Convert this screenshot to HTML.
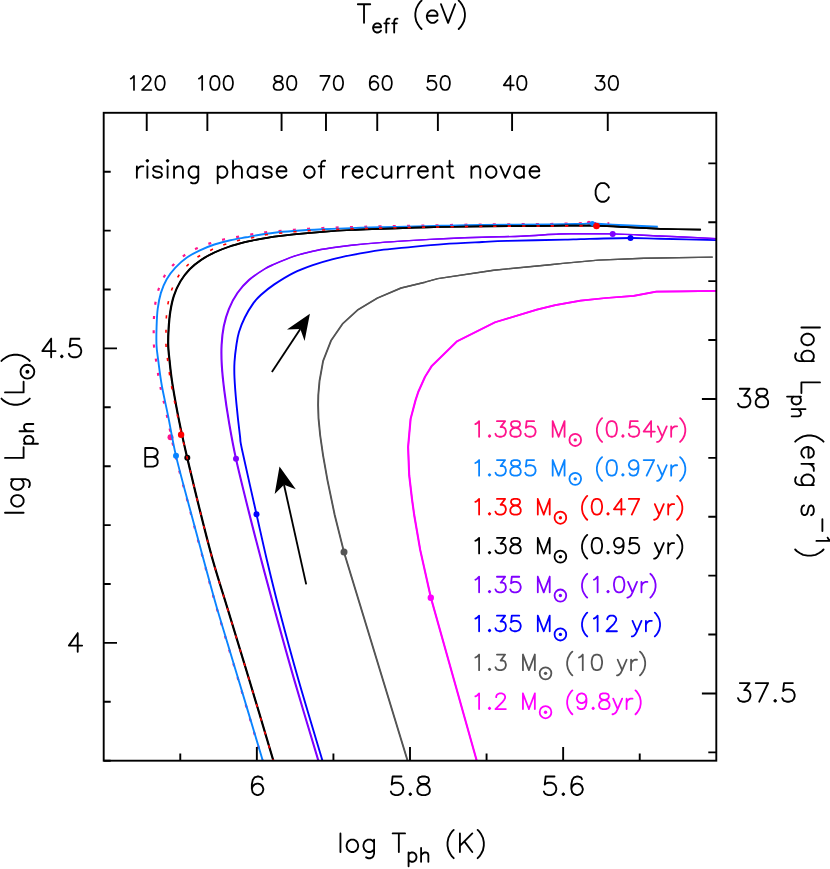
<!DOCTYPE html>
<html lang="en">
<head>
<meta charset="utf-8">
<title>Rising phase of recurrent novae</title>
<style>
html,body{margin:0;padding:0;background:#fff;font-family:"Liberation Sans",sans-serif;}
svg{display:block}
</style>
</head>
<body>
<svg width="830" height="869" viewBox="0 0 830 869">
<defs><clipPath id="pc"><rect x="103.7" y="112.8" width="612.6" height="647.9"/></clipPath></defs>
<title>Rising phase of recurrent novae: log L_ph vs log T_ph</title>
<desc>Axes: log T_ph (K) 6, 5.8, 5.6; T_eff (eV) 120 100 80 70 60 50 40 30; log L_ph (L_sun) 4, 4.5; log L_ph (erg s^-1) 37.5, 38. Labels B, C. Legend: 1.385 M_sun (0.54yr), 1.385 M_sun (0.97yr), 1.38 M_sun (0.47 yr), 1.38 M_sun (0.95 yr), 1.35 M_sun (1.0yr), 1.35 M_sun (12 yr), 1.3 M_sun (10 yr), 1.2 M_sun (9.8yr)</desc>
<rect width="830" height="869" fill="#fff"/>
<g fill="none" stroke-linejoin="round" stroke-linecap="butt" clip-path="url(#pc)">
<path d="M476.8 760.9L430.9 597.7L420.2 549.9L414.2 515L412 499.1L409.2 475.2L408.1 447L410.6 418.9L415.6 400L418.5 391.3L425 376.9L431.9 365.8L457.2 341.2L495.1 322.3L536.9 309.6L555.3 305.1L580.6 300.6L605.9 298L633.7 295.8L656.3 291.6L681.8 291.4L716.3 290.8" stroke="#ff00ff" stroke-width="1.7" transform="translate(-0.2 0)"/>
<path d="M476.8 760.9L430.9 597.7L420.2 549.9L414.2 515L412 499.1L409.2 475.2L408.1 447L410.6 418.9L415.6 400L418.5 391.3L425 376.9L431.9 365.8L457.2 341.2L495.1 322.3L536.9 309.6L555.3 305.1L580.6 300.6L605.9 298L633.7 295.8L656.3 291.6L681.8 291.4L716.3 290.8" stroke="#ff00ff" stroke-width="1.7" transform="translate(0.2 0)"/>
<path d="M407.6 760.7L344 552.2L334.7 515L327.5 480.3L323.1 455.7L320.2 435.5L318.5 418.1L318.1 405.1L318.3 395L319.5 381.2L323.1 361L331 340.7L342.9 323.4L358.2 309.6L377.3 298.1L401.1 288L425 282.2L437.8 278.6L493.7 270.2L550 264.8L562.9 263.4L598.3 260.1L643.9 258.3L712.7 257.1" stroke="#555555" stroke-width="1.4" transform="translate(-0.25 0)"/>
<path d="M407.6 760.7L344 552.2L334.7 515L327.5 480.3L323.1 455.7L320.2 435.5L318.5 418.1L318.1 405.1L318.3 395L319.5 381.2L323.1 361L331 340.7L342.9 323.4L358.2 309.6L377.3 298.1L401.1 288L425 282.2L437.8 278.6L493.7 270.2L550 264.8L562.9 263.4L598.3 260.1L643.9 258.3L712.7 257.1" stroke="#555555" stroke-width="1.4" transform="translate(0.25 0)"/>
<path d="M322.5 760.7C318.5 747.25 305.7 705.12 298.5 680C291.3 654.88 284.55 629.92 279.3 610C274.05 590.08 270.8 576.47 267 560.5C263.2 544.53 260.65 532.62 256.5 514.2C252.35 495.78 244.85 463 242.1 450C239.35 437 240.95 443.98 240 436.2C239.05 428.42 237.32 413 236.4 403.3C235.48 393.6 234.82 384.88 234.5 378C234.18 371.12 234.18 367.5 234.5 362C234.82 356.5 235.65 350 236.4 345C237.15 340 237.6 336.58 239 332C240.4 327.42 242.4 322.32 244.8 317.5C247.2 312.68 250.73 306.85 253.4 303.1C256.07 299.35 257.32 298.12 260.8 295C264.28 291.88 268.83 288.1 274.3 284.4C279.77 280.7 287.18 276.02 293.6 272.8C300.02 269.58 306.38 267.35 312.8 265.1C319.22 262.85 325.67 260.97 332.1 259.3C338.53 257.63 343.37 256.63 351.4 255.1C359.43 253.57 371.37 251.35 380.3 250.1C389.23 248.85 394.45 248.6 405 247.6C415.55 246.6 430.75 245.03 443.6 244.1C456.45 243.17 471.5 242.53 482.1 242C492.7 241.47 493.38 241.3 507.2 240.9C521.02 240.5 552.77 239.9 565 239.6C577.23 239.3 569.68 239.37 580.6 239.1C591.52 238.83 617.27 238.05 630.5 238C643.73 237.95 645.7 238.45 660 238.8C674.3 239.15 706.92 239.88 716.3 240.1" stroke="#0000ff" stroke-width="1.9"/>
<path d="M318.4 760.7C314.38 747.25 301.58 705.12 294.3 680C287.02 654.88 280.18 629.92 274.7 610C269.22 590.08 265.6 576.42 261.4 560.5C257.2 544.58 253.73 531.45 249.5 514.5C245.27 497.55 239.45 474.38 236 458.8C232.55 443.22 230.75 432.37 228.8 421C226.85 409.63 225.47 399.88 224.3 390.6C223.13 381.32 222.25 372.9 221.8 365.3C221.35 357.7 221.27 351.52 221.6 345C221.93 338.48 222.58 332.22 223.8 326.2C225.02 320.18 226.62 314.45 228.9 308.9C231.18 303.35 234.13 297.73 237.5 292.9C240.87 288.07 244.58 283.88 249.1 279.9C253.62 275.92 260.4 271.62 264.6 269C268.8 266.38 269.47 266.3 274.3 264.2C279.13 262.1 287.18 258.57 293.6 256.4C300.02 254.23 306.38 252.63 312.8 251.2C319.22 249.77 325.67 248.78 332.1 247.8C338.53 246.82 343.37 246.17 351.4 245.3C359.43 244.43 371.37 243.33 380.3 242.6C389.23 241.87 394.45 241.55 405 240.9C415.55 240.25 430.75 239.32 443.6 238.7C456.45 238.08 469.25 237.62 482.1 237.2C494.95 236.78 507.85 236.73 520.7 236.2C533.55 235.67 549.32 234.4 559.2 234C569.08 233.6 571.12 233.82 580 233.8C588.88 233.78 599.17 233.53 612.5 233.9C625.83 234.27 642.7 235.22 660 236C677.3 236.78 706.92 238.17 716.3 238.6" stroke="#8000ff" stroke-width="1.4" transform="translate(-0.35 0)"/>
<path d="M318.4 760.7C314.38 747.25 301.58 705.12 294.3 680C287.02 654.88 280.18 629.92 274.7 610C269.22 590.08 265.6 576.42 261.4 560.5C257.2 544.58 253.73 531.45 249.5 514.5C245.27 497.55 239.45 474.38 236 458.8C232.55 443.22 230.75 432.37 228.8 421C226.85 409.63 225.47 399.88 224.3 390.6C223.13 381.32 222.25 372.9 221.8 365.3C221.35 357.7 221.27 351.52 221.6 345C221.93 338.48 222.58 332.22 223.8 326.2C225.02 320.18 226.62 314.45 228.9 308.9C231.18 303.35 234.13 297.73 237.5 292.9C240.87 288.07 244.58 283.88 249.1 279.9C253.62 275.92 260.4 271.62 264.6 269C268.8 266.38 269.47 266.3 274.3 264.2C279.13 262.1 287.18 258.57 293.6 256.4C300.02 254.23 306.38 252.63 312.8 251.2C319.22 249.77 325.67 248.78 332.1 247.8C338.53 246.82 343.37 246.17 351.4 245.3C359.43 244.43 371.37 243.33 380.3 242.6C389.23 241.87 394.45 241.55 405 240.9C415.55 240.25 430.75 239.32 443.6 238.7C456.45 238.08 469.25 237.62 482.1 237.2C494.95 236.78 507.85 236.73 520.7 236.2C533.55 235.67 549.32 234.4 559.2 234C569.08 233.6 571.12 233.82 580 233.8C588.88 233.78 599.17 233.53 612.5 233.9C625.83 234.27 642.7 235.22 660 236C677.3 236.78 706.92 238.17 716.3 238.6" stroke="#8000ff" stroke-width="1.4" transform="translate(0.35 0)"/>
<path id="pk" d="M262.55 760.7C258.67 747.75 246.8 708.12 239.25 683C231.7 657.88 223.37 631.03 217.25 610C211.13 588.97 207.33 574.27 202.55 556.8C197.78 539.33 193.11 522.02 188.6 505.2C184.09 488.38 179.1 470.78 175.5 455.9C171.9 441.02 169.57 427.63 167 415.9C164.43 404.17 161.93 394.78 160.1 385.5C158.27 376.22 157.03 366.95 156 360.2C154.97 353.45 154.28 349.75 153.9 345C153.52 340.25 153.68 336.33 153.7 331.7C153.72 327.07 153.72 321.97 154 317.2C154.28 312.43 154.62 307.8 155.4 303.1C156.18 298.4 157.18 293.52 158.7 289C160.22 284.48 162.08 280 164.5 276C166.92 272 169.95 268.4 173.2 265C176.45 261.6 180.15 258.33 184 255.6C187.85 252.87 192 250.63 196.3 248.6C200.6 246.57 205.27 244.92 209.8 243.4C214.33 241.88 218.88 240.58 223.5 239.5C228.12 238.42 232.8 237.75 237.5 236.9C242.2 236.05 247.02 235.17 251.7 234.4C256.38 233.63 258.53 233.07 265.6 232.3C272.67 231.53 284.57 230.52 294.1 229.8C303.63 229.08 313.25 228.45 322.8 228C332.35 227.55 341.87 227.37 351.4 227.1C360.93 226.83 369.4 226.63 380 226.4C390.6 226.17 398 226.02 415 225.7C432 225.38 459.5 224.78 482 224.5C504.5 224.22 532.18 224.25 550 224C567.82 223.75 579.02 223.12 588.9 223C598.78 222.88 605.9 223.25 609.3 223.3" stroke="#ff148c" stroke-width="2.2" stroke-dasharray="3 11.3" stroke-dashoffset="1.5"/>
<circle cx="170.5" cy="437.2" r="3" fill="#ff148c"/><circle cx="588.9" cy="222.8" r="2" fill="#ff148c"/>
<path d="M262.8 760.7C258.92 747.75 247.05 708.12 239.5 683C231.95 657.88 223.62 631.03 217.5 610C211.38 588.97 207.57 574.27 202.8 556.8C198.03 539.33 193.37 522.02 188.9 505.2C184.43 488.38 179.47 470.78 176 455.9C172.53 441.02 170.47 427.63 168.1 415.9C165.73 404.17 163.45 394.78 161.8 385.5C160.15 376.22 159.08 366.95 158.2 360.2C157.32 353.45 156.77 350.67 156.5 345C156.23 339.33 156.4 332.22 156.6 326.2C156.8 320.18 156.98 314.45 157.7 308.9C158.42 303.35 159.4 297.85 160.9 292.9C162.4 287.95 164.28 283.42 166.7 279.2C169.12 274.98 172.03 271.22 175.4 267.6C178.77 263.98 182.82 260.38 186.9 257.5C190.98 254.62 195.32 252.47 199.9 250.3C204.48 248.13 209.33 246.18 214.4 244.5C219.47 242.82 225 241.4 230.3 240.2C235.6 239 242.08 238.07 246.2 237.3C250.32 236.53 250.32 236.37 255 235.6C259.68 234.83 267.87 233.47 274.3 232.7C280.73 231.93 285.57 231.57 293.6 231C301.63 230.43 312.87 229.78 322.5 229.3C332.13 228.82 341.77 228.43 351.4 228.1C361.03 227.77 369.7 227.57 380.3 227.3C390.9 227.03 404.85 226.75 415 226.5C425.15 226.25 430.02 226.05 441.2 225.8C452.38 225.55 463.97 225.22 482.1 225C500.23 224.78 533.58 224.68 550 224.5C566.42 224.32 573.38 224.07 580.6 223.9C587.82 223.73 586.97 223.32 593.3 223.5C599.63 223.68 607.85 224.47 618.6 225C629.35 225.53 651.27 226.42 657.8 226.7" stroke="#0a84ff" stroke-width="1.9"/>
<path d="M273.4 760.7C269.53 747.75 257.77 708.12 250.2 683C242.63 657.88 234.22 630.42 228 610C221.78 589.58 217.57 577.03 212.9 560.5C208.23 543.97 204.28 527.93 200 510.8C195.72 493.67 190.42 471.4 187.2 457.7C183.98 444 182.53 437.25 180.7 428.6C178.87 419.95 177.67 413.82 176.2 405.8C174.73 397.78 173.02 388.1 171.9 380.5C170.78 372.9 170.12 366.12 169.5 360.2C168.88 354.28 168.35 350.18 168.2 345C168.05 339.82 168.25 334.65 168.6 329.1C168.95 323.55 169.42 317.25 170.3 311.7C171.18 306.15 172.22 300.85 173.9 295.8C175.58 290.75 177.75 285.85 180.4 281.4C183.05 276.95 186.3 272.72 189.8 269.1C193.3 265.48 197.3 262.47 201.4 259.7C205.5 256.93 209.82 254.67 214.4 252.5C218.98 250.33 223.83 248.43 228.9 246.7C233.97 244.97 240.45 243.22 244.8 242.1C249.15 240.98 250.08 240.92 255 240C259.92 239.08 267.87 237.55 274.3 236.6C280.73 235.65 285.57 235.1 293.6 234.3C301.63 233.5 312.87 232.52 322.5 231.8C332.13 231.08 341.77 230.48 351.4 230C361.03 229.52 369.7 229.28 380.3 228.9C390.9 228.52 404.85 228.02 415 227.7C425.15 227.38 430.02 227.22 441.2 227C452.38 226.78 463.97 226.6 482.1 226.4C500.23 226.2 531.02 225.92 550 225.8C568.98 225.68 582.5 225.43 596 225.7C609.5 225.97 620.33 226.88 631 227.4C641.67 227.92 648.37 228.42 660 228.8C671.63 229.18 694 229.55 700.8 229.7" stroke="#000000" stroke-width="1.7" transform="translate(-0.25 0)"/>
<path d="M273.4 760.7C269.53 747.75 257.77 708.12 250.2 683C242.63 657.88 234.22 630.42 228 610C221.78 589.58 217.57 577.03 212.9 560.5C208.23 543.97 204.28 527.93 200 510.8C195.72 493.67 190.42 471.4 187.2 457.7C183.98 444 182.53 437.25 180.7 428.6C178.87 419.95 177.67 413.82 176.2 405.8C174.73 397.78 173.02 388.1 171.9 380.5C170.78 372.9 170.12 366.12 169.5 360.2C168.88 354.28 168.35 350.18 168.2 345C168.05 339.82 168.25 334.65 168.6 329.1C168.95 323.55 169.42 317.25 170.3 311.7C171.18 306.15 172.22 300.85 173.9 295.8C175.58 290.75 177.75 285.85 180.4 281.4C183.05 276.95 186.3 272.72 189.8 269.1C193.3 265.48 197.3 262.47 201.4 259.7C205.5 256.93 209.82 254.67 214.4 252.5C218.98 250.33 223.83 248.43 228.9 246.7C233.97 244.97 240.45 243.22 244.8 242.1C249.15 240.98 250.08 240.92 255 240C259.92 239.08 267.87 237.55 274.3 236.6C280.73 235.65 285.57 235.1 293.6 234.3C301.63 233.5 312.87 232.52 322.5 231.8C332.13 231.08 341.77 230.48 351.4 230C361.03 229.52 369.7 229.28 380.3 228.9C390.9 228.52 404.85 228.02 415 227.7C425.15 227.38 430.02 227.22 441.2 227C452.38 226.78 463.97 226.6 482.1 226.4C500.23 226.2 531.02 225.92 550 225.8C568.98 225.68 582.5 225.43 596 225.7C609.5 225.97 620.33 226.88 631 227.4C641.67 227.92 648.37 228.42 660 228.8C671.63 229.18 694 229.55 700.8 229.7" stroke="#000000" stroke-width="1.7" transform="translate(0.25 0)"/>
</g>
<circle cx="176" cy="455.8" r="3" fill="#0a84ff"/>
<circle cx="592.3" cy="223.5" r="2.4" fill="#0a84ff"/>
<circle cx="187.3" cy="457.7" r="3" fill="#000000"/>
<circle cx="236" cy="458.8" r="3" fill="#8000ff"/>
<circle cx="612.7" cy="233.9" r="3" fill="#8000ff"/>
<circle cx="256.5" cy="514.2" r="3" fill="#0000ff"/>
<circle cx="630.5" cy="238.1" r="3" fill="#0000ff"/>
<circle cx="344" cy="552.1" r="3.5" fill="#555555"/>
<circle cx="430.8" cy="597.7" r="3.2" fill="#ff00ff"/>
<path id="rd" d="M273.3 760.7C269.43 747.75 257.67 708.12 250.1 683C242.53 657.88 234.12 630.42 227.9 610C221.68 589.58 217.47 577.03 212.8 560.5C208.13 543.97 204.18 527.93 199.9 510.8C195.62 493.67 190.37 471.4 187.1 457.7C183.83 444 182.25 437.25 180.3 428.6C178.35 419.95 177.03 413.82 175.4 405.8C173.77 397.78 171.8 388.1 170.5 380.5C169.2 372.9 168.35 366.12 167.6 360.2C166.85 354.28 166.27 349.75 166 345C165.73 340.25 165.93 336.4 166 331.7C166.07 327 166.05 321.57 166.4 316.8C166.75 312.03 167.17 307.73 168.1 303.1C169.03 298.47 170.27 293.52 172 289C173.73 284.48 175.97 279.92 178.5 276C181.03 272.08 183.87 268.75 187.2 265.5C190.53 262.25 194.5 259.1 198.5 256.5C202.5 253.9 206.87 251.9 211.2 249.9C215.53 247.9 220 246.07 224.5 244.5C229 242.93 233.57 241.63 238.2 240.5C242.83 239.37 247.67 238.65 252.3 237.7C256.93 236.75 258.97 235.78 266 234.8C273.03 233.82 285.03 232.6 294.5 231.8C303.97 231 313.32 230.5 322.8 230C332.28 229.5 341.82 229.12 351.4 228.8C360.98 228.48 369.7 228.35 380.3 228.1C390.9 227.85 398.03 227.58 415 227.3C431.97 227.02 459.6 226.63 482.1 226.4C504.6 226.17 530.93 225.97 550 225.9C569.07 225.83 588.75 225.98 596.5 226" fill="none" stroke="#ff0000" stroke-width="1.6" stroke-dasharray="3.2 11.1" stroke-dashoffset="1.2" clip-path="url(#pc)"/>
<circle cx="181.1" cy="434.7" r="3.2" fill="#ff0000"/>
<circle cx="596.5" cy="226" r="3.3" fill="#ff0000"/>
<path d="M271.9 372.1L300.3 328.9" stroke="#000" stroke-width="1.85" fill="none"/>
<path d="M309.9 313.8L287 329.4L300.3 328.9L304.6 341Z" fill="#000"/>
<path d="M306.2 584.4L284 484.8" stroke="#000" stroke-width="1.85" fill="none"/>
<path d="M279.5 466.6L274.7 494.1L284 484.8L295.8 489.3Z" fill="#000"/>
<path d="M639.73 760.7v-7.3M563.15 760.7v-13.6M486.57 760.7v-7.3M410 760.7v-13.6M333.42 760.7v-7.3M256.85 760.7v-13.6M180.28 760.7v-7.3M146.73 112.8v18.3M207.36 112.8v18.3M281.57 112.8v18.3M325.98 112.8v18.3M377.24 112.8v18.3M437.88 112.8v18.3M512.08 112.8v18.3M607.76 112.8v18.3M103.7 760.7h7M103.7 701.8h7M103.7 642.9h13.3M103.7 584h7M103.7 525.1h7M103.7 466.2h7M103.7 407.3h7M103.7 348.4h13.3M103.7 289.5h7M103.7 230.6h7M103.7 171.7h7M716.3 752.34h-8M716.3 693.44h-14.4M716.3 634.54h-8M716.3 575.64h-8M716.3 516.74h-8M716.3 457.84h-8M716.3 398.94h-14.4M716.3 340.04h-8M716.3 281.14h-8M716.3 222.24h-8M716.3 163.34h-8" stroke="#000" stroke-width="1.9" fill="none"/>
<rect x="103.7" y="112.8" width="612.6" height="647.9" fill="none" stroke="#000" stroke-width="1.9"/>
<g fill="none" stroke-linecap="round" stroke-linejoin="round">
<g transform="translate(356.94 22.8)" stroke="#000" stroke-width="1.85"><path d="M7.08 -18.59L7.08 0M0.89 -18.59L13.28 -18.59M16.14 4.46L24.05 4.46L24.05 3.14L23.39 1.82L22.73 1.16L21.41 0.5L19.43 0.5L18.12 1.16L16.8 2.48L16.14 4.46L16.14 5.78L16.8 7.76L18.12 9.08L19.43 9.73L21.41 9.73L22.73 9.08L24.05 7.76M32.62 -4.11L31.3 -4.11L29.98 -3.45L29.32 -1.47L29.32 9.73M27.35 0.5L31.96 0.5M40.53 -4.11L39.21 -4.11L37.9 -3.45L37.24 -1.47L37.24 9.73M35.26 0.5L39.87 0.5M64.6 -22.12L62.83 -20.36L61.06 -17.7L59.29 -14.16L58.4 -9.73L58.4 -6.2L59.29 -1.77L61.06 1.77L62.83 4.42L64.6 6.2M69.91 -7.08L80.53 -7.08L80.53 -8.85L79.64 -10.62L78.76 -11.51L76.99 -12.39L74.33 -12.39L72.56 -11.51L70.79 -9.73L69.91 -7.08L69.91 -5.31L70.79 -2.66L72.56 -0.89L74.33 0L76.99 0L78.76 -0.89L80.53 -2.66M84.07 -18.59L91.15 0M98.23 -18.59L91.15 0M101.77 -22.12L103.54 -20.36L105.31 -17.7L107.08 -14.16L107.96 -9.73L107.96 -6.2L107.08 -1.77L105.31 1.77L103.54 4.42L101.77 6.2"/></g>
<g transform="translate(126.64 90)" stroke="#000" stroke-width="1.7"><path d="M4.01 -11.36L5.34 -12.02L7.35 -14.03L7.35 0M16.03 -10.69L16.03 -11.36L16.7 -12.69L17.37 -13.36L18.7 -14.03L21.38 -14.03L22.71 -13.36L23.38 -12.69L24.05 -11.36L24.05 -10.02L23.38 -8.68L22.04 -6.68L15.36 0L24.72 0M32.73 -14.03L30.73 -13.36L29.39 -11.36L28.72 -8.02L28.72 -6.01L29.39 -2.67L30.73 -0.67L32.73 0L34.07 0L36.07 -0.67L37.41 -2.67L38.08 -6.01L38.08 -8.02L37.41 -11.36L36.07 -13.36L34.07 -14.03L32.73 -14.03"/></g>
<g transform="translate(194.84 90)" stroke="#000" stroke-width="1.7"><path d="M4.01 -11.36L5.34 -12.02L7.35 -14.03L7.35 0M19.37 -14.03L17.37 -13.36L16.03 -11.36L15.36 -8.02L15.36 -6.01L16.03 -2.67L17.37 -0.67L19.37 0L20.71 0L22.71 -0.67L24.05 -2.67L24.72 -6.01L24.72 -8.02L24.05 -11.36L22.71 -13.36L20.71 -14.03L19.37 -14.03M32.73 -14.03L30.73 -13.36L29.39 -11.36L28.72 -8.02L28.72 -6.01L29.39 -2.67L30.73 -0.67L32.73 0L34.07 0L36.07 -0.67L37.41 -2.67L38.08 -6.01L38.08 -8.02L37.41 -11.36L36.07 -13.36L34.07 -14.03L32.73 -14.03"/></g>
<g transform="translate(271.65 90)" stroke="#000" stroke-width="1.7"><path d="M5.34 -14.03L3.34 -13.36L2.67 -12.02L2.67 -10.69L3.34 -9.35L4.68 -8.68L7.35 -8.02L9.35 -7.35L10.69 -6.01L11.36 -4.68L11.36 -2.67L10.69 -1.34L10.02 -0.67L8.02 0L5.34 0L3.34 -0.67L2.67 -1.34L2 -2.67L2 -4.68L2.67 -6.01L4.01 -7.35L6.01 -8.02L8.68 -8.68L10.02 -9.35L10.69 -10.69L10.69 -12.02L10.02 -13.36L8.02 -14.03L5.34 -14.03M19.37 -14.03L17.37 -13.36L16.03 -11.36L15.36 -8.02L15.36 -6.01L16.03 -2.67L17.37 -0.67L19.37 0L20.71 0L22.71 -0.67L24.05 -2.67L24.72 -6.01L24.72 -8.02L24.05 -11.36L22.71 -13.36L20.71 -14.03L19.37 -14.03"/></g>
<g transform="translate(318.35 90)" stroke="#000" stroke-width="1.7"><path d="M11.36 -14.03L4.68 0M2 -14.03L11.36 -14.03M19.37 -14.03L17.37 -13.36L16.03 -11.36L15.36 -8.02L15.36 -6.01L16.03 -2.67L17.37 -0.67L19.37 0L20.71 0L22.71 -0.67L24.05 -2.67L24.72 -6.01L24.72 -8.02L24.05 -11.36L22.71 -13.36L20.71 -14.03L19.37 -14.03"/></g>
<g transform="translate(367.08 90)" stroke="#000" stroke-width="1.7"><path d="M10.69 -12.02L10.02 -13.36L8.02 -14.03L6.68 -14.03L4.68 -13.36L3.34 -11.36L2.67 -8.02L2.67 -4.68L3.34 -2L4.68 -0.67L6.68 0L7.35 0L9.35 -0.67L10.69 -2L11.36 -4.01L11.36 -4.68L10.69 -6.68L9.35 -8.02L7.35 -8.68L6.68 -8.68L4.68 -8.02L3.34 -6.68L2.67 -4.68M19.37 -14.03L17.37 -13.36L16.03 -11.36L15.36 -8.02L15.36 -6.01L16.03 -2.67L17.37 -0.67L19.37 0L20.71 0L22.71 -0.67L24.05 -2.67L24.72 -6.01L24.72 -8.02L24.05 -11.36L22.71 -13.36L20.71 -14.03L19.37 -14.03"/></g>
<g transform="translate(425.15 90)" stroke="#000" stroke-width="1.7"><path d="M10.02 -14.03L3.34 -14.03L2.67 -8.02L3.34 -8.68L5.34 -9.35L7.35 -9.35L9.35 -8.68L10.69 -7.35L11.36 -5.34L11.36 -4.01L10.69 -2L9.35 -0.67L7.35 0L5.34 0L3.34 -0.67L2.67 -1.34L2 -2.67M19.37 -14.03L17.37 -13.36L16.03 -11.36L15.36 -8.02L15.36 -6.01L16.03 -2.67L17.37 -0.67L19.37 0L20.71 0L22.71 -0.67L24.05 -2.67L24.72 -6.01L24.72 -8.02L24.05 -11.36L22.71 -13.36L20.71 -14.03L19.37 -14.03"/></g>
<g transform="translate(501.75 90)" stroke="#000" stroke-width="1.7"><path d="M8.68 -14.03L2 -4.68L12.02 -4.68M8.68 -14.03L8.68 0M19.37 -14.03L17.37 -13.36L16.03 -11.36L15.36 -8.02L15.36 -6.01L16.03 -2.67L17.37 -0.67L19.37 0L20.71 0L22.71 -0.67L24.05 -2.67L24.72 -6.01L24.72 -8.02L24.05 -11.36L22.71 -13.36L20.71 -14.03L19.37 -14.03"/></g>
<g transform="translate(593.35 90)" stroke="#000" stroke-width="1.7"><path d="M3.34 -14.03L10.69 -14.03L6.68 -8.68L8.68 -8.68L10.02 -8.02L10.69 -7.35L11.36 -5.34L11.36 -4.01L10.69 -2L9.35 -0.67L7.35 0L5.34 0L3.34 -0.67L2.67 -1.34L2 -2.67M19.37 -14.03L17.37 -13.36L16.03 -11.36L15.36 -8.02L15.36 -6.01L16.03 -2.67L17.37 -0.67L19.37 0L20.71 0L22.71 -0.67L24.05 -2.67L24.72 -6.01L24.72 -8.02L24.05 -11.36L22.71 -13.36L20.71 -14.03L19.37 -14.03"/></g>
<g transform="translate(39.65 357.3)" stroke="#000" stroke-width="1.85"><path d="M11.51 -18.59L2.66 -6.2L15.93 -6.2M11.51 -18.59L11.51 0M22.12 -1.77L21.24 -0.89L22.12 0L23.01 -0.89L22.12 -1.77M39.82 -18.59L30.97 -18.59L30.09 -10.62L30.97 -11.51L33.63 -12.39L36.28 -12.39L38.94 -11.51L40.71 -9.73L41.59 -7.08L41.59 -5.31L40.71 -2.66L38.94 -0.89L36.28 0L33.63 0L30.97 -0.89L30.09 -1.77L29.2 -3.54"/></g>
<g transform="translate(66.2 651.8)" stroke="#000" stroke-width="1.85"><path d="M11.51 -18.59L2.66 -6.2L15.93 -6.2M11.51 -18.59L11.51 0"/></g>
<g transform="translate(248.3 795.1)" stroke="#000" stroke-width="1.85"><path d="M14.16 -15.93L13.28 -17.7L10.62 -18.59L8.85 -18.59L6.2 -17.7L4.42 -15.04L3.54 -10.62L3.54 -6.2L4.42 -2.66L6.2 -0.89L8.85 0L9.73 0L12.39 -0.89L14.16 -2.66L15.04 -5.31L15.04 -6.2L14.16 -8.85L12.39 -10.62L9.73 -11.51L8.85 -11.51L6.2 -10.62L4.42 -8.85L3.54 -6.2"/></g>
<g transform="translate(388.18 795.1)" stroke="#000" stroke-width="1.85"><path d="M13.28 -18.59L4.42 -18.59L3.54 -10.62L4.42 -11.51L7.08 -12.39L9.73 -12.39L12.39 -11.51L14.16 -9.73L15.04 -7.08L15.04 -5.31L14.16 -2.66L12.39 -0.89L9.73 0L7.08 0L4.42 -0.89L3.54 -1.77L2.66 -3.54M22.12 -1.77L21.24 -0.89L22.12 0L23.01 -0.89L22.12 -1.77M33.63 -18.59L30.97 -17.7L30.09 -15.93L30.09 -14.16L30.97 -12.39L32.74 -11.51L36.28 -10.62L38.94 -9.73L40.71 -7.96L41.59 -6.2L41.59 -3.54L40.71 -1.77L39.82 -0.89L37.17 0L33.63 0L30.97 -0.89L30.09 -1.77L29.2 -3.54L29.2 -6.2L30.09 -7.96L31.86 -9.73L34.52 -10.62L38.05 -11.51L39.82 -12.39L40.71 -14.16L40.71 -15.93L39.82 -17.7L37.17 -18.59L33.63 -18.59"/></g>
<g transform="translate(541.23 795.1)" stroke="#000" stroke-width="1.85"><path d="M13.28 -18.59L4.42 -18.59L3.54 -10.62L4.42 -11.51L7.08 -12.39L9.73 -12.39L12.39 -11.51L14.16 -9.73L15.04 -7.08L15.04 -5.31L14.16 -2.66L12.39 -0.89L9.73 0L7.08 0L4.42 -0.89L3.54 -1.77L2.66 -3.54M22.12 -1.77L21.24 -0.89L22.12 0L23.01 -0.89L22.12 -1.77M40.71 -15.93L39.82 -17.7L37.17 -18.59L35.4 -18.59L32.74 -17.7L30.97 -15.04L30.09 -10.62L30.09 -6.2L30.97 -2.66L32.74 -0.89L35.4 0L36.28 0L38.94 -0.89L40.71 -2.66L41.59 -5.31L41.59 -6.2L40.71 -8.85L38.94 -10.62L36.28 -11.51L35.4 -11.51L32.74 -10.62L30.97 -8.85L30.09 -6.2"/></g>
<g transform="translate(735.37 407.3)" stroke="#000" stroke-width="1.85"><path d="M4.42 -18.59L14.16 -18.59L8.85 -11.51L11.51 -11.51L13.28 -10.62L14.16 -9.73L15.04 -7.08L15.04 -5.31L14.16 -2.66L12.39 -0.89L9.73 0L7.08 0L4.42 -0.89L3.54 -1.77L2.66 -3.54M24.78 -18.59L22.12 -17.7L21.24 -15.93L21.24 -14.16L22.12 -12.39L23.89 -11.51L27.43 -10.62L30.09 -9.73L31.86 -7.96L32.74 -6.2L32.74 -3.54L31.86 -1.77L30.98 -0.89L28.32 0L24.78 0L22.12 -0.89L21.24 -1.77L20.36 -3.54L20.36 -6.2L21.24 -7.96L23.01 -9.73L25.66 -10.62L29.2 -11.51L30.98 -12.39L31.86 -14.16L31.86 -15.93L30.98 -17.7L28.32 -18.59L24.78 -18.59"/></g>
<g transform="translate(735.37 701.7)" stroke="#000" stroke-width="1.85"><path d="M4.42 -18.59L14.16 -18.59L8.85 -11.51L11.51 -11.51L13.28 -10.62L14.16 -9.73L15.04 -7.08L15.04 -5.31L14.16 -2.66L12.39 -0.89L9.73 0L7.08 0L4.42 -0.89L3.54 -1.77L2.66 -3.54M32.74 -18.59L23.89 0M20.36 -18.59L32.74 -18.59M39.82 -1.77L38.94 -0.89L39.82 0L40.71 -0.89L39.82 -1.77M57.52 -18.59L48.67 -18.59L47.79 -10.62L48.67 -11.51L51.33 -12.39L53.98 -12.39L56.64 -11.51L58.41 -9.73L59.3 -7.08L59.3 -5.31L58.41 -2.66L56.64 -0.89L53.98 0L51.33 0L48.67 -0.89L47.79 -1.77L46.91 -3.54"/></g>
<g transform="translate(23.6 516.3) rotate(-90)" stroke="#000" stroke-width="1.85"><path d="M3.54 -18.59L3.54 0M14.16 -12.39L12.39 -11.51L10.62 -9.73L9.73 -7.08L9.73 -5.31L10.62 -2.66L12.39 -0.89L14.16 0L16.81 0L18.59 -0.89L20.36 -2.66L21.24 -5.31L21.24 -7.08L20.36 -9.73L18.59 -11.51L16.81 -12.39L14.16 -12.39M37.17 -12.39L37.17 1.77L36.29 4.42L35.4 5.31L33.63 6.2L30.98 6.2L29.21 5.31M37.17 -9.73L35.4 -11.51L33.63 -12.39L30.98 -12.39L29.21 -11.51L27.44 -9.73L26.55 -7.08L26.55 -5.31L27.44 -2.66L29.21 -0.89L30.98 0L33.63 0L35.4 -0.89L37.17 -2.66M58.41 -18.59L58.41 0M58.41 0L69.03 0M72.55 0.5L72.55 14.35M72.55 2.48L73.87 1.16L75.19 0.5L77.17 0.5L78.49 1.16L79.8 2.48L80.46 4.46L80.46 5.78L79.8 7.76L78.49 9.08L77.17 9.73L75.19 9.73L73.87 9.08L72.55 7.76M85.08 -4.11L85.08 9.73M85.08 3.14L87.06 1.16L88.38 0.5L90.35 0.5L91.67 1.16L92.33 3.14L92.33 9.73M117.71 -22.12L115.94 -20.36L114.17 -17.7L112.4 -14.16L111.52 -9.73L111.52 -6.2L112.4 -1.77L114.17 1.77L115.94 4.42L117.71 6.2M123.91 -18.59L123.91 0M123.91 0L134.53 0M137.71 3.81a6.9 6.9 0 1 0 13.81 0a6.9 6.9 0 1 0 -13.81 0M155.33 -22.12L157.1 -20.36L158.87 -17.7L160.64 -14.16L161.52 -9.73L161.52 -6.2L160.64 -1.77L158.87 1.77L157.1 4.42L155.33 6.2"/><circle cx="144.62" cy="3.81" r="1.99" fill="#000" stroke="none"/></g>
<g transform="translate(801.4 324) rotate(90)" stroke="#000" stroke-width="1.85"><path d="M3.54 -18.59L3.54 0M14.16 -12.39L12.39 -11.51L10.62 -9.73L9.73 -7.08L9.73 -5.31L10.62 -2.66L12.39 -0.89L14.16 0L16.81 0L18.59 -0.89L20.36 -2.66L21.24 -5.31L21.24 -7.08L20.36 -9.73L18.59 -11.51L16.81 -12.39L14.16 -12.39M37.17 -12.39L37.17 1.77L36.29 4.42L35.4 5.31L33.63 6.2L30.98 6.2L29.21 5.31M37.17 -9.73L35.4 -11.51L33.63 -12.39L30.98 -12.39L29.21 -11.51L27.44 -9.73L26.55 -7.08L26.55 -5.31L27.44 -2.66L29.21 -0.89L30.98 0L33.63 0L35.4 -0.89L37.17 -2.66M58.41 -18.59L58.41 0M58.41 0L69.03 0M72.55 0.5L72.55 14.35M72.55 2.48L73.87 1.16L75.19 0.5L77.17 0.5L78.49 1.16L79.8 2.48L80.46 4.46L80.46 5.78L79.8 7.76L78.49 9.08L77.17 9.73L75.19 9.73L73.87 9.08L72.55 7.76M85.08 -4.11L85.08 9.73M85.08 3.14L87.06 1.16L88.38 0.5L90.35 0.5L91.67 1.16L92.33 3.14L92.33 9.73M117.71 -22.12L115.94 -20.36L114.17 -17.7L112.4 -14.16L111.52 -9.73L111.52 -6.2L112.4 -1.77L114.17 1.77L115.94 4.42L117.71 6.2M123.02 -7.08L133.64 -7.08L133.64 -8.85L132.76 -10.62L131.87 -11.51L130.1 -12.39L127.45 -12.39L125.68 -11.51L123.91 -9.73L123.02 -7.08L123.02 -5.31L123.91 -2.66L125.68 -0.89L127.45 0L130.1 0L131.87 -0.89L133.64 -2.66M139.84 -12.39L139.84 0M139.84 -7.08L140.72 -9.73L142.49 -11.51L144.26 -12.39L146.92 -12.39M161.08 -12.39L161.08 1.77L160.19 4.42L159.31 5.31L157.54 6.2L154.88 6.2L153.11 5.31M161.08 -9.73L159.31 -11.51L157.54 -12.39L154.88 -12.39L153.11 -11.51L151.34 -9.73L150.46 -7.08L150.46 -5.31L151.34 -2.66L153.11 -0.89L154.88 0L157.54 0L159.31 -0.89L161.08 -2.66M191.17 -9.73L190.28 -11.51L187.63 -12.39L184.97 -12.39L182.32 -11.51L181.43 -9.73L182.32 -7.96L184.09 -7.08L188.51 -6.2L190.28 -5.31L191.17 -3.54L191.17 -2.66L190.28 -0.89L187.63 0L184.97 0L182.32 -0.89L181.43 -2.66M195.14 -20.98H207.01M213.6 -26.25L214.92 -26.91L216.9 -28.89L216.9 -15.04M225.49 -22.12L227.26 -20.36L229.03 -17.7L230.8 -14.16L231.68 -9.73L231.68 -6.2L230.8 -1.77L229.03 1.77L227.26 4.42L225.49 6.2"/></g>
<g transform="translate(336.9 852)" stroke="#000" stroke-width="1.85"><path d="M3.54 -18.59L3.54 0M14.16 -12.39L12.39 -11.51L10.62 -9.73L9.73 -7.08L9.73 -5.31L10.62 -2.66L12.39 -0.89L14.16 0L16.81 0L18.59 -0.89L20.36 -2.66L21.24 -5.31L21.24 -7.08L20.36 -9.73L18.59 -11.51L16.81 -12.39L14.16 -12.39M37.17 -12.39L37.17 1.77L36.29 4.42L35.4 5.31L33.63 6.2L30.98 6.2L29.21 5.31M37.17 -9.73L35.4 -11.51L33.63 -12.39L30.98 -12.39L29.21 -11.51L27.44 -9.73L26.55 -7.08L26.55 -5.31L27.44 -2.66L29.21 -0.89L30.98 0L33.63 0L35.4 -0.89L37.17 -2.66M61.95 -18.59L61.95 0M55.76 -18.59L68.15 -18.59M71.67 0.5L71.67 14.35M71.67 2.48L72.99 1.16L74.3 0.5L76.28 0.5L77.6 1.16L78.92 2.48L79.58 4.46L79.58 5.78L78.92 7.76L77.6 9.08L76.28 9.73L74.3 9.73L72.99 9.08L71.67 7.76M84.19 -4.11L84.19 9.73M84.19 3.14L86.17 1.16L87.49 0.5L89.47 0.5L90.79 1.16L91.45 3.14L91.45 9.73M116.83 -22.12L115.06 -20.36L113.29 -17.7L111.52 -14.16L110.63 -9.73L110.63 -6.2L111.52 -1.77L113.29 1.77L115.06 4.42L116.83 6.2M123.02 -18.59L123.02 0M135.41 -18.59L123.02 -6.2M127.45 -10.62L135.41 0M140.72 -22.12L142.49 -20.36L144.26 -17.7L146.03 -14.16L146.92 -9.73L146.92 -6.2L146.03 -1.77L144.26 1.77L142.49 4.42L140.72 6.2"/></g>
<g transform="translate(133.65 177.7)" stroke="#000" stroke-width="1.85"><path d="M3.23 -11.31L3.23 0M3.23 -6.46L4.04 -8.89L5.66 -10.5L7.27 -11.31L9.7 -11.31M12.93 -16.97L13.74 -16.16L14.54 -16.97L13.74 -17.78L12.93 -16.97M13.74 -11.31L13.74 0M28.28 -8.89L27.47 -10.5L25.05 -11.31L22.62 -11.31L20.2 -10.5L19.39 -8.89L20.2 -7.27L21.82 -6.46L25.86 -5.66L27.47 -4.85L28.28 -3.23L28.28 -2.42L27.47 -0.81L25.05 0L22.62 0L20.2 -0.81L19.39 -2.42M33.13 -16.97L33.94 -16.16L34.74 -16.97L33.94 -17.78L33.13 -16.97M33.94 -11.31L33.94 0M40.4 -11.31L40.4 0M40.4 -8.08L42.82 -10.5L44.44 -11.31L46.86 -11.31L48.48 -10.5L49.29 -8.08L49.29 0M64.64 -11.31L64.64 1.62L63.83 4.04L63.02 4.85L61.41 5.66L58.98 5.66L57.37 4.85M64.64 -8.89L63.02 -10.5L61.41 -11.31L58.98 -11.31L57.37 -10.5L55.75 -8.89L54.94 -6.46L54.94 -4.85L55.75 -2.42L57.37 -0.81L58.98 0L61.41 0L63.02 -0.81L64.64 -2.42M84.03 -11.31L84.03 5.66M84.03 -8.89L85.65 -10.5L87.26 -11.31L89.69 -11.31L91.3 -10.5L92.92 -8.89L93.73 -6.46L93.73 -4.85L92.92 -2.42L91.3 -0.81L89.69 0L87.26 0L85.65 -0.81L84.03 -2.42M99.38 -16.97L99.38 0M99.38 -8.08L101.81 -10.5L103.42 -11.31L105.85 -11.31L107.46 -10.5L108.27 -8.08L108.27 0M123.62 -11.31L123.62 0M123.62 -8.89L122.01 -10.5L120.39 -11.31L117.97 -11.31L116.35 -10.5L114.74 -8.89L113.93 -6.46L113.93 -4.85L114.74 -2.42L116.35 -0.81L117.97 0L120.39 0L122.01 -0.81L123.62 -2.42M138.17 -8.89L137.36 -10.5L134.94 -11.31L132.51 -11.31L130.09 -10.5L129.28 -8.89L130.09 -7.27L131.7 -6.46L135.74 -5.66L137.36 -4.85L138.17 -3.23L138.17 -2.42L137.36 -0.81L134.94 0L132.51 0L130.09 -0.81L129.28 -2.42M143.02 -6.46L152.71 -6.46L152.71 -8.08L151.9 -9.7L151.1 -10.5L149.48 -11.31L147.06 -11.31L145.44 -10.5L143.82 -8.89L143.02 -6.46L143.02 -4.85L143.82 -2.42L145.44 -0.81L147.06 0L149.48 0L151.1 -0.81L152.71 -2.42M174.53 -11.31L172.91 -10.5L171.3 -8.89L170.49 -6.46L170.49 -4.85L171.3 -2.42L172.91 -0.81L174.53 0L176.95 0L178.57 -0.81L180.18 -2.42L180.99 -4.85L180.99 -6.46L180.18 -8.89L178.57 -10.5L176.95 -11.31L174.53 -11.31M191.5 -16.97L189.88 -16.97L188.26 -16.16L187.46 -13.74L187.46 0M185.03 -11.31L190.69 -11.31M209.27 -11.31L209.27 0M209.27 -6.46L210.08 -8.89L211.7 -10.5L213.31 -11.31L215.74 -11.31M218.97 -6.46L228.66 -6.46L228.66 -8.08L227.86 -9.7L227.05 -10.5L225.43 -11.31L223.01 -11.31L221.39 -10.5L219.78 -8.89L218.97 -6.46L218.97 -4.85L219.78 -2.42L221.39 -0.81L223.01 0L225.43 0L227.05 -0.81L228.66 -2.42M243.21 -8.89L241.59 -10.5L239.98 -11.31L237.55 -11.31L235.94 -10.5L234.32 -8.89L233.51 -6.46L233.51 -4.85L234.32 -2.42L235.94 -0.81L237.55 0L239.98 0L241.59 -0.81L243.21 -2.42M248.86 -11.31L248.86 -3.23L249.67 -0.81L251.29 0L253.71 0L255.33 -0.81L257.75 -3.23M257.75 -11.31L257.75 0M264.22 -11.31L264.22 0M264.22 -6.46L265.02 -8.89L266.64 -10.5L268.26 -11.31L270.68 -11.31M274.72 -11.31L274.72 0M274.72 -6.46L275.53 -8.89L277.14 -10.5L278.76 -11.31L281.18 -11.31M284.42 -6.46L294.11 -6.46L294.11 -8.08L293.3 -9.7L292.5 -10.5L290.88 -11.31L288.46 -11.31L286.84 -10.5L285.22 -8.89L284.42 -6.46L284.42 -4.85L285.22 -2.42L286.84 -0.81L288.46 0L290.88 0L292.5 -0.81L294.11 -2.42M299.77 -11.31L299.77 0M299.77 -8.08L302.19 -10.5L303.81 -11.31L306.23 -11.31L307.85 -10.5L308.66 -8.08L308.66 0M315.93 -16.97L315.93 -3.23L316.74 -0.81L318.35 0L319.97 0M313.5 -11.31L319.16 -11.31M337.74 -11.31L337.74 0M337.74 -8.08L340.17 -10.5L341.78 -11.31L344.21 -11.31L345.82 -10.5L346.63 -8.08L346.63 0M356.33 -11.31L354.71 -10.5L353.1 -8.89L352.29 -6.46L352.29 -4.85L353.1 -2.42L354.71 -0.81L356.33 0L358.75 0L360.37 -0.81L361.98 -2.42L362.79 -4.85L362.79 -6.46L361.98 -8.89L360.37 -10.5L358.75 -11.31L356.33 -11.31M366.83 -11.31L371.68 0M376.53 -11.31L371.68 0M390.26 -11.31L390.26 0M390.26 -8.89L388.65 -10.5L387.03 -11.31L384.61 -11.31L382.99 -10.5L381.38 -8.89L380.57 -6.46L380.57 -4.85L381.38 -2.42L382.99 -0.81L384.61 0L387.03 0L388.65 -0.81L390.26 -2.42M395.92 -6.46L405.62 -6.46L405.62 -8.08L404.81 -9.7L404 -10.5L402.38 -11.31L399.96 -11.31L398.34 -10.5L396.73 -8.89L395.92 -6.46L395.92 -4.85L396.73 -2.42L398.34 -0.81L399.96 0L402.38 0L404 -0.81L405.62 -2.42"/></g>
<g transform="translate(141.69 466.6)" stroke="#000" stroke-width="1.85"><path d="M3.54 -18.59L3.54 0M3.54 -18.59L11.51 -18.59L14.16 -17.7L15.04 -16.82L15.93 -15.04L15.93 -13.28L15.04 -11.51L14.16 -10.62L11.51 -9.73M3.54 -9.73L11.51 -9.73L14.16 -8.85L15.04 -7.96L15.93 -6.2L15.93 -3.54L15.04 -1.77L14.16 -0.89L11.51 0L3.54 0"/></g>
<g transform="translate(592.97 201.7)" stroke="#000" stroke-width="1.85"><path d="M15.93 -14.16L15.04 -15.93L13.28 -17.7L11.51 -18.59L7.96 -18.59L6.2 -17.7L4.42 -15.93L3.54 -14.16L2.66 -11.51L2.66 -7.08L3.54 -4.42L4.42 -2.66L6.2 -0.89L7.96 0L11.51 0L13.28 -0.89L15.04 -2.66L15.93 -4.42"/></g>
<g transform="translate(470.94 436.75)" stroke="#ff148c" stroke-width="1.8"><path d="M4.46 -12.63L5.94 -13.37L8.17 -15.6L8.17 0M18.57 -1.49L17.83 -0.74L18.57 0L19.32 -0.74L18.57 -1.49M26 -15.6L34.18 -15.6L29.72 -9.66L31.95 -9.66L33.44 -8.92L34.18 -8.17L34.92 -5.94L34.92 -4.46L34.18 -2.23L32.69 -0.74L30.46 0L28.23 0L26 -0.74L25.26 -1.49L24.52 -2.97M43.09 -15.6L40.86 -14.86L40.12 -13.37L40.12 -11.89L40.86 -10.4L42.35 -9.66L45.32 -8.92L47.55 -8.17L49.04 -6.69L49.78 -5.2L49.78 -2.97L49.04 -1.49L48.3 -0.74L46.07 0L43.09 0L40.86 -0.74L40.12 -1.49L39.38 -2.97L39.38 -5.2L40.12 -6.69L41.61 -8.17L43.84 -8.92L46.81 -9.66L48.3 -10.4L49.04 -11.89L49.04 -13.37L48.3 -14.86L46.07 -15.6L43.09 -15.6M63.16 -15.6L55.72 -15.6L54.98 -8.92L55.72 -9.66L57.95 -10.4L60.18 -10.4L62.41 -9.66L63.9 -8.17L64.64 -5.94L64.64 -4.46L63.9 -2.23L62.41 -0.74L60.18 0L57.95 0L55.72 -0.74L54.98 -1.49L54.24 -2.97M81.73 -15.6L81.73 0M81.73 -15.6L87.67 0M93.62 -15.6L87.67 0M93.62 -15.6L93.62 0M98.52 3.19a5.8 5.8 0 1 0 11.59 0a5.8 5.8 0 1 0 -11.59 0M131.14 -18.57L129.65 -17.09L128.17 -14.86L126.68 -11.89L125.94 -8.17L125.94 -5.2L126.68 -1.49L128.17 1.49L129.65 3.71L131.14 5.2M140.06 -15.6L137.83 -14.86L136.34 -12.63L135.6 -8.92L135.6 -6.69L136.34 -2.97L137.83 -0.74L140.06 0L141.54 0L143.77 -0.74L145.26 -2.97L146 -6.69L146 -8.92L145.26 -12.63L143.77 -14.86L141.54 -15.6L140.06 -15.6M151.94 -1.49L151.2 -0.74L151.94 0L152.69 -0.74L151.94 -1.49M166.8 -15.6L159.37 -15.6L158.63 -8.92L159.37 -9.66L161.6 -10.4L163.83 -10.4L166.06 -9.66L167.55 -8.17L168.29 -5.94L168.29 -4.46L167.55 -2.23L166.06 -0.74L163.83 0L161.6 0L159.37 -0.74L158.63 -1.49L157.89 -2.97M180.18 -15.6L172.75 -5.2L183.89 -5.2M180.18 -15.6L180.18 0M186.86 -10.4L191.32 0M195.78 -10.4L191.32 0L189.84 2.97L188.35 4.46L186.86 5.2L186.12 5.2M200.24 -10.4L200.24 0M200.24 -5.94L200.98 -8.17L202.47 -9.66L203.95 -10.4L206.18 -10.4M209.15 -18.57L210.64 -17.09L212.13 -14.86L213.61 -11.89L214.36 -8.17L214.36 -5.2L213.61 -1.49L212.13 1.49L210.64 3.71L209.15 5.2"/><circle cx="104.32" cy="3.19" r="1.67" fill="#ff148c" stroke="none"/></g>
<g transform="translate(470.94 475.65)" stroke="#0a84ff" stroke-width="1.8"><path d="M4.46 -12.63L5.94 -13.37L8.17 -15.6L8.17 0M18.57 -1.49L17.83 -0.74L18.57 0L19.32 -0.74L18.57 -1.49M26 -15.6L34.18 -15.6L29.72 -9.66L31.95 -9.66L33.44 -8.92L34.18 -8.17L34.92 -5.94L34.92 -4.46L34.18 -2.23L32.69 -0.74L30.46 0L28.23 0L26 -0.74L25.26 -1.49L24.52 -2.97M43.09 -15.6L40.86 -14.86L40.12 -13.37L40.12 -11.89L40.86 -10.4L42.35 -9.66L45.32 -8.92L47.55 -8.17L49.04 -6.69L49.78 -5.2L49.78 -2.97L49.04 -1.49L48.3 -0.74L46.07 0L43.09 0L40.86 -0.74L40.12 -1.49L39.38 -2.97L39.38 -5.2L40.12 -6.69L41.61 -8.17L43.84 -8.92L46.81 -9.66L48.3 -10.4L49.04 -11.89L49.04 -13.37L48.3 -14.86L46.07 -15.6L43.09 -15.6M63.16 -15.6L55.72 -15.6L54.98 -8.92L55.72 -9.66L57.95 -10.4L60.18 -10.4L62.41 -9.66L63.9 -8.17L64.64 -5.94L64.64 -4.46L63.9 -2.23L62.41 -0.74L60.18 0L57.95 0L55.72 -0.74L54.98 -1.49L54.24 -2.97M81.73 -15.6L81.73 0M81.73 -15.6L87.67 0M93.62 -15.6L87.67 0M93.62 -15.6L93.62 0M98.52 3.19a5.8 5.8 0 1 0 11.59 0a5.8 5.8 0 1 0 -11.59 0M131.14 -18.57L129.65 -17.09L128.17 -14.86L126.68 -11.89L125.94 -8.17L125.94 -5.2L126.68 -1.49L128.17 1.49L129.65 3.71L131.14 5.2M140.06 -15.6L137.83 -14.86L136.34 -12.63L135.6 -8.92L135.6 -6.69L136.34 -2.97L137.83 -0.74L140.06 0L141.54 0L143.77 -0.74L145.26 -2.97L146 -6.69L146 -8.92L145.26 -12.63L143.77 -14.86L141.54 -15.6L140.06 -15.6M151.94 -1.49L151.2 -0.74L151.94 0L152.69 -0.74L151.94 -1.49M167.55 -10.4L166.8 -8.17L165.32 -6.69L163.09 -5.94L162.35 -5.94L160.12 -6.69L158.63 -8.17L157.89 -10.4L157.89 -11.14L158.63 -13.37L160.12 -14.86L162.35 -15.6L163.09 -15.6L165.32 -14.86L166.8 -13.37L167.55 -10.4L167.55 -6.69L166.8 -2.97L165.32 -0.74L163.09 0L161.6 0L159.37 -0.74L158.63 -2.23M183.15 -15.6L175.72 0M172.75 -15.6L183.15 -15.6M186.86 -10.4L191.32 0M195.78 -10.4L191.32 0L189.84 2.97L188.35 4.46L186.86 5.2L186.12 5.2M200.24 -10.4L200.24 0M200.24 -5.94L200.98 -8.17L202.47 -9.66L203.95 -10.4L206.18 -10.4M209.15 -18.57L210.64 -17.09L212.13 -14.86L213.61 -11.89L214.36 -8.17L214.36 -5.2L213.61 -1.49L212.13 1.49L210.64 3.71L209.15 5.2"/><circle cx="104.32" cy="3.19" r="1.67" fill="#0a84ff" stroke="none"/></g>
<g transform="translate(470.94 514.55)" stroke="#ff0000" stroke-width="1.8"><path d="M4.46 -12.63L5.94 -13.37L8.17 -15.6L8.17 0M18.57 -1.49L17.83 -0.74L18.57 0L19.32 -0.74L18.57 -1.49M26 -15.6L34.18 -15.6L29.72 -9.66L31.95 -9.66L33.44 -8.92L34.18 -8.17L34.92 -5.94L34.92 -4.46L34.18 -2.23L32.69 -0.74L30.46 0L28.23 0L26 -0.74L25.26 -1.49L24.52 -2.97M43.09 -15.6L40.86 -14.86L40.12 -13.37L40.12 -11.89L40.86 -10.4L42.35 -9.66L45.32 -8.92L47.55 -8.17L49.04 -6.69L49.78 -5.2L49.78 -2.97L49.04 -1.49L48.3 -0.74L46.07 0L43.09 0L40.86 -0.74L40.12 -1.49L39.38 -2.97L39.38 -5.2L40.12 -6.69L41.61 -8.17L43.84 -8.92L46.81 -9.66L48.3 -10.4L49.04 -11.89L49.04 -13.37L48.3 -14.86L46.07 -15.6L43.09 -15.6M66.87 -15.6L66.87 0M66.87 -15.6L72.81 0M78.76 -15.6L72.81 0M78.76 -15.6L78.76 0M83.66 3.19a5.8 5.8 0 1 0 11.59 0a5.8 5.8 0 1 0 -11.59 0M116.28 -18.57L114.79 -17.09L113.31 -14.86L111.82 -11.89L111.08 -8.17L111.08 -5.2L111.82 -1.49L113.31 1.49L114.79 3.71L116.28 5.2M125.2 -15.6L122.97 -14.86L121.48 -12.63L120.74 -8.92L120.74 -6.69L121.48 -2.97L122.97 -0.74L125.2 0L126.68 0L128.91 -0.74L130.4 -2.97L131.14 -6.69L131.14 -8.92L130.4 -12.63L128.91 -14.86L126.68 -15.6L125.2 -15.6M137.08 -1.49L136.34 -0.74L137.08 0L137.83 -0.74L137.08 -1.49M150.46 -15.6L143.03 -5.2L154.17 -5.2M150.46 -15.6L150.46 0M168.29 -15.6L160.86 0M157.89 -15.6L168.29 -15.6M183.89 -10.4L188.35 0M192.81 -10.4L188.35 0L186.86 2.97L185.38 4.46L183.89 5.2L183.15 5.2M197.27 -10.4L197.27 0M197.27 -5.94L198.01 -8.17L199.5 -9.66L200.98 -10.4L203.21 -10.4M206.18 -18.57L207.67 -17.09L209.15 -14.86L210.64 -11.89L211.38 -8.17L211.38 -5.2L210.64 -1.49L209.15 1.49L207.67 3.71L206.18 5.2"/><circle cx="89.46" cy="3.19" r="1.67" fill="#ff0000" stroke="none"/></g>
<g transform="translate(470.94 553.45)" stroke="#000000" stroke-width="1.8"><path d="M4.46 -12.63L5.94 -13.37L8.17 -15.6L8.17 0M18.57 -1.49L17.83 -0.74L18.57 0L19.32 -0.74L18.57 -1.49M26 -15.6L34.18 -15.6L29.72 -9.66L31.95 -9.66L33.44 -8.92L34.18 -8.17L34.92 -5.94L34.92 -4.46L34.18 -2.23L32.69 -0.74L30.46 0L28.23 0L26 -0.74L25.26 -1.49L24.52 -2.97M43.09 -15.6L40.86 -14.86L40.12 -13.37L40.12 -11.89L40.86 -10.4L42.35 -9.66L45.32 -8.92L47.55 -8.17L49.04 -6.69L49.78 -5.2L49.78 -2.97L49.04 -1.49L48.3 -0.74L46.07 0L43.09 0L40.86 -0.74L40.12 -1.49L39.38 -2.97L39.38 -5.2L40.12 -6.69L41.61 -8.17L43.84 -8.92L46.81 -9.66L48.3 -10.4L49.04 -11.89L49.04 -13.37L48.3 -14.86L46.07 -15.6L43.09 -15.6M66.87 -15.6L66.87 0M66.87 -15.6L72.81 0M78.76 -15.6L72.81 0M78.76 -15.6L78.76 0M83.66 3.19a5.8 5.8 0 1 0 11.59 0a5.8 5.8 0 1 0 -11.59 0M116.28 -18.57L114.79 -17.09L113.31 -14.86L111.82 -11.89L111.08 -8.17L111.08 -5.2L111.82 -1.49L113.31 1.49L114.79 3.71L116.28 5.2M125.2 -15.6L122.97 -14.86L121.48 -12.63L120.74 -8.92L120.74 -6.69L121.48 -2.97L122.97 -0.74L125.2 0L126.68 0L128.91 -0.74L130.4 -2.97L131.14 -6.69L131.14 -8.92L130.4 -12.63L128.91 -14.86L126.68 -15.6L125.2 -15.6M137.08 -1.49L136.34 -0.74L137.08 0L137.83 -0.74L137.08 -1.49M152.69 -10.4L151.94 -8.17L150.46 -6.69L148.23 -5.94L147.49 -5.94L145.26 -6.69L143.77 -8.17L143.03 -10.4L143.03 -11.14L143.77 -13.37L145.26 -14.86L147.49 -15.6L148.23 -15.6L150.46 -14.86L151.94 -13.37L152.69 -10.4L152.69 -6.69L151.94 -2.97L150.46 -0.74L148.23 0L146.74 0L144.51 -0.74L143.77 -2.23M166.8 -15.6L159.37 -15.6L158.63 -8.92L159.37 -9.66L161.6 -10.4L163.83 -10.4L166.06 -9.66L167.55 -8.17L168.29 -5.94L168.29 -4.46L167.55 -2.23L166.06 -0.74L163.83 0L161.6 0L159.37 -0.74L158.63 -1.49L157.89 -2.97M183.89 -10.4L188.35 0M192.81 -10.4L188.35 0L186.86 2.97L185.38 4.46L183.89 5.2L183.15 5.2M197.27 -10.4L197.27 0M197.27 -5.94L198.01 -8.17L199.5 -9.66L200.98 -10.4L203.21 -10.4M206.18 -18.57L207.67 -17.09L209.15 -14.86L210.64 -11.89L211.38 -8.17L211.38 -5.2L210.64 -1.49L209.15 1.49L207.67 3.71L206.18 5.2"/><circle cx="89.46" cy="3.19" r="1.67" fill="#000000" stroke="none"/></g>
<g transform="translate(470.94 592.35)" stroke="#8000ff" stroke-width="1.8"><path d="M4.46 -12.63L5.94 -13.37L8.17 -15.6L8.17 0M18.57 -1.49L17.83 -0.74L18.57 0L19.32 -0.74L18.57 -1.49M26 -15.6L34.18 -15.6L29.72 -9.66L31.95 -9.66L33.44 -8.92L34.18 -8.17L34.92 -5.94L34.92 -4.46L34.18 -2.23L32.69 -0.74L30.46 0L28.23 0L26 -0.74L25.26 -1.49L24.52 -2.97M48.3 -15.6L40.86 -15.6L40.12 -8.92L40.86 -9.66L43.09 -10.4L45.32 -10.4L47.55 -9.66L49.04 -8.17L49.78 -5.94L49.78 -4.46L49.04 -2.23L47.55 -0.74L45.32 0L43.09 0L40.86 -0.74L40.12 -1.49L39.38 -2.97M66.87 -15.6L66.87 0M66.87 -15.6L72.81 0M78.76 -15.6L72.81 0M78.76 -15.6L78.76 0M83.66 3.19a5.8 5.8 0 1 0 11.59 0a5.8 5.8 0 1 0 -11.59 0M116.28 -18.57L114.79 -17.09L113.31 -14.86L111.82 -11.89L111.08 -8.17L111.08 -5.2L111.82 -1.49L113.31 1.49L114.79 3.71L116.28 5.2M122.97 -12.63L124.45 -13.37L126.68 -15.6L126.68 0M137.08 -1.49L136.34 -0.74L137.08 0L137.83 -0.74L137.08 -1.49M147.49 -15.6L145.26 -14.86L143.77 -12.63L143.03 -8.92L143.03 -6.69L143.77 -2.97L145.26 -0.74L147.49 0L148.97 0L151.2 -0.74L152.69 -2.97L153.43 -6.69L153.43 -8.92L152.69 -12.63L151.2 -14.86L148.97 -15.6L147.49 -15.6M157.14 -10.4L161.6 0M166.06 -10.4L161.6 0L160.12 2.97L158.63 4.46L157.14 5.2L156.4 5.2M170.52 -10.4L170.52 0M170.52 -5.94L171.26 -8.17L172.75 -9.66L174.23 -10.4L176.46 -10.4M179.43 -18.57L180.92 -17.09L182.41 -14.86L183.89 -11.89L184.64 -8.17L184.64 -5.2L183.89 -1.49L182.41 1.49L180.92 3.71L179.43 5.2"/><circle cx="89.46" cy="3.19" r="1.67" fill="#8000ff" stroke="none"/></g>
<g transform="translate(470.94 631.25)" stroke="#0000ff" stroke-width="1.8"><path d="M4.46 -12.63L5.94 -13.37L8.17 -15.6L8.17 0M18.57 -1.49L17.83 -0.74L18.57 0L19.32 -0.74L18.57 -1.49M26 -15.6L34.18 -15.6L29.72 -9.66L31.95 -9.66L33.44 -8.92L34.18 -8.17L34.92 -5.94L34.92 -4.46L34.18 -2.23L32.69 -0.74L30.46 0L28.23 0L26 -0.74L25.26 -1.49L24.52 -2.97M48.3 -15.6L40.86 -15.6L40.12 -8.92L40.86 -9.66L43.09 -10.4L45.32 -10.4L47.55 -9.66L49.04 -8.17L49.78 -5.94L49.78 -4.46L49.04 -2.23L47.55 -0.74L45.32 0L43.09 0L40.86 -0.74L40.12 -1.49L39.38 -2.97M66.87 -15.6L66.87 0M66.87 -15.6L72.81 0M78.76 -15.6L72.81 0M78.76 -15.6L78.76 0M83.66 3.19a5.8 5.8 0 1 0 11.59 0a5.8 5.8 0 1 0 -11.59 0M116.28 -18.57L114.79 -17.09L113.31 -14.86L111.82 -11.89L111.08 -8.17L111.08 -5.2L111.82 -1.49L113.31 1.49L114.79 3.71L116.28 5.2M122.97 -12.63L124.45 -13.37L126.68 -15.6L126.68 0M136.34 -11.89L136.34 -12.63L137.08 -14.12L137.83 -14.86L139.31 -15.6L142.28 -15.6L143.77 -14.86L144.51 -14.12L145.26 -12.63L145.26 -11.14L144.51 -9.66L143.03 -7.43L135.6 0L146 0M161.6 -10.4L166.06 0M170.52 -10.4L166.06 0L164.57 2.97L163.09 4.46L161.6 5.2L160.86 5.2M174.98 -10.4L174.98 0M174.98 -5.94L175.72 -8.17L177.21 -9.66L178.69 -10.4L180.92 -10.4M183.89 -18.57L185.38 -17.09L186.86 -14.86L188.35 -11.89L189.09 -8.17L189.09 -5.2L188.35 -1.49L186.86 1.49L185.38 3.71L183.89 5.2"/><circle cx="89.46" cy="3.19" r="1.67" fill="#0000ff" stroke="none"/></g>
<g transform="translate(470.94 670.15)" stroke="#555555" stroke-width="1.8"><path d="M4.46 -12.63L5.94 -13.37L8.17 -15.6L8.17 0M18.57 -1.49L17.83 -0.74L18.57 0L19.32 -0.74L18.57 -1.49M26 -15.6L34.18 -15.6L29.72 -9.66L31.95 -9.66L33.44 -8.92L34.18 -8.17L34.92 -5.94L34.92 -4.46L34.18 -2.23L32.69 -0.74L30.46 0L28.23 0L26 -0.74L25.26 -1.49L24.52 -2.97M52.01 -15.6L52.01 0M52.01 -15.6L57.95 0M63.9 -15.6L57.95 0M63.9 -15.6L63.9 0M68.8 3.19a5.8 5.8 0 1 0 11.59 0a5.8 5.8 0 1 0 -11.59 0M101.42 -18.57L99.93 -17.09L98.45 -14.86L96.96 -11.89L96.22 -8.17L96.22 -5.2L96.96 -1.49L98.45 1.49L99.93 3.71L101.42 5.2M108.11 -12.63L109.59 -13.37L111.82 -15.6L111.82 0M125.2 -15.6L122.97 -14.86L121.48 -12.63L120.74 -8.92L120.74 -6.69L121.48 -2.97L122.97 -0.74L125.2 0L126.68 0L128.91 -0.74L130.4 -2.97L131.14 -6.69L131.14 -8.92L130.4 -12.63L128.91 -14.86L126.68 -15.6L125.2 -15.6M146.74 -10.4L151.2 0M155.66 -10.4L151.2 0L149.71 2.97L148.23 4.46L146.74 5.2L146 5.2M160.12 -10.4L160.12 0M160.12 -5.94L160.86 -8.17L162.35 -9.66L163.83 -10.4L166.06 -10.4M169.03 -18.57L170.52 -17.09L172 -14.86L173.49 -11.89L174.23 -8.17L174.23 -5.2L173.49 -1.49L172 1.49L170.52 3.71L169.03 5.2"/><circle cx="74.6" cy="3.19" r="1.67" fill="#555555" stroke="none"/></g>
<g transform="translate(470.94 709.05)" stroke="#ff00ff" stroke-width="1.8"><path d="M4.46 -12.63L5.94 -13.37L8.17 -15.6L8.17 0M18.57 -1.49L17.83 -0.74L18.57 0L19.32 -0.74L18.57 -1.49M25.26 -11.89L25.26 -12.63L26 -14.12L26.75 -14.86L28.23 -15.6L31.21 -15.6L32.69 -14.86L33.44 -14.12L34.18 -12.63L34.18 -11.14L33.44 -9.66L31.95 -7.43L24.52 0L34.92 0M52.01 -15.6L52.01 0M52.01 -15.6L57.95 0M63.9 -15.6L57.95 0M63.9 -15.6L63.9 0M68.8 3.19a5.8 5.8 0 1 0 11.59 0a5.8 5.8 0 1 0 -11.59 0M101.42 -18.57L99.93 -17.09L98.45 -14.86L96.96 -11.89L96.22 -8.17L96.22 -5.2L96.96 -1.49L98.45 1.49L99.93 3.71L101.42 5.2M115.54 -10.4L114.79 -8.17L113.31 -6.69L111.08 -5.94L110.34 -5.94L108.11 -6.69L106.62 -8.17L105.88 -10.4L105.88 -11.14L106.62 -13.37L108.11 -14.86L110.34 -15.6L111.08 -15.6L113.31 -14.86L114.79 -13.37L115.54 -10.4L115.54 -6.69L114.79 -2.97L113.31 -0.74L111.08 0L109.59 0L107.36 -0.74L106.62 -2.23M122.22 -1.49L121.48 -0.74L122.22 0L122.97 -0.74L122.22 -1.49M131.88 -15.6L129.65 -14.86L128.91 -13.37L128.91 -11.89L129.65 -10.4L131.14 -9.66L134.11 -8.92L136.34 -8.17L137.83 -6.69L138.57 -5.2L138.57 -2.97L137.83 -1.49L137.08 -0.74L134.85 0L131.88 0L129.65 -0.74L128.91 -1.49L128.17 -2.97L128.17 -5.2L128.91 -6.69L130.4 -8.17L132.63 -8.92L135.6 -9.66L137.08 -10.4L137.83 -11.89L137.83 -13.37L137.08 -14.86L134.85 -15.6L131.88 -15.6M142.28 -10.4L146.74 0M151.2 -10.4L146.74 0L145.26 2.97L143.77 4.46L142.28 5.2L141.54 5.2M155.66 -10.4L155.66 0M155.66 -5.94L156.4 -8.17L157.89 -9.66L159.37 -10.4L161.6 -10.4M164.57 -18.57L166.06 -17.09L167.55 -14.86L169.03 -11.89L169.78 -8.17L169.78 -5.2L169.03 -1.49L167.55 1.49L166.06 3.71L164.57 5.2"/><circle cx="74.6" cy="3.19" r="1.67" fill="#ff00ff" stroke="none"/></g>
</g>
</svg>
</body>
</html>
